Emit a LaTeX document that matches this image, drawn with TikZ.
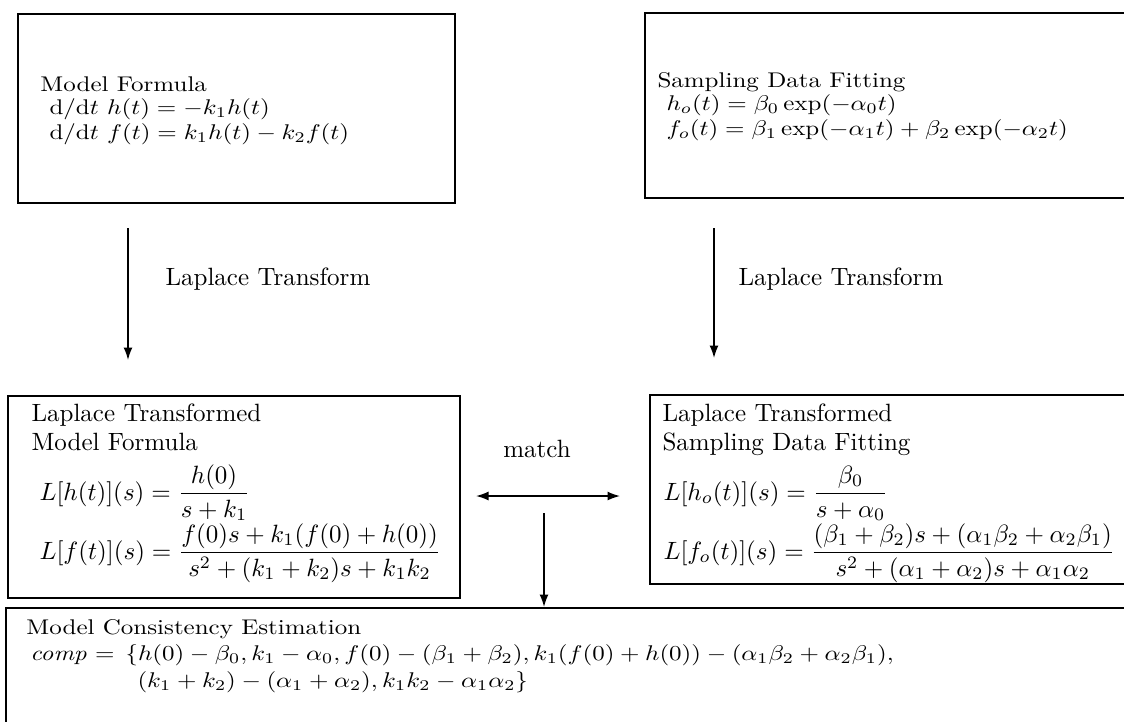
\documentclass[tikz,border=0pt]{standalone}
\usepackage{amsmath}
\usepackage{graphicx}
\usetikzlibrary{arrows.meta,fit}
\newcommand{\vsq}[1]{\scalebox{1}[0.85]{#1}}
\begin{document}
\begin{tikzpicture}[x=0.4pt,y=-0.4pt,
  box/.style={draw, line width=0.8pt, inner sep=0pt},
  txt/.style={anchor=base west, inner sep=0pt, font=\fontsize{10}{12}\selectfont},
  arr/.style={line width=0.6pt, -{Latex[length=5pt,width=3.6pt]}},
  darr/.style={line width=0.6pt, {Latex[length=5pt,width=3.6pt]}-{Latex[length=5pt,width=3.6pt]}}]
\useasboundingbox (0,0) rectangle (1124,721);
\begin{scope}
\clip (0,0) rectangle (1124,721);
% boxes
\node[box, fit={(18,14) (455,203)}] (b1) {};
\node[box, fit={(645,13) (1135,198)}] (b2) {};
\node[box, fit={(8,396) (460,598)}] (b3) {};
\node[box, fit={(650,395) (1135,584)}] (b4) {};
\node[box, fit={(6,608) (1135,735)}] (b5) {};
\end{scope}
% box 1 text
\node[txt] (t1a) at (40,91) {\vsq{Model Formula}};
\node[txt] (t1b) at (49,114) {\vsq{d/d$t$ $h(t) = -k_1h(t)$}};
\node[txt] (t1c) at (49,139) {\vsq{d/d$t$ $f(t) = k_1h(t) - k_2f(t)$}};
% box 2 text
\node[txt] (t2a) at (657,87) {\vsq{Sampling Data Fitting}};
\node[txt] (t2b) at (666,110) {\vsq{$h_o(t) = \beta_0\exp(-\alpha_0t)$}};
\node[txt] (t2c) at (666,135) {\vsq{$f_o(t) = \beta_1\exp(-\alpha_1t) + \beta_2\exp(-\alpha_2t)$}};
% transforms
\coordinate (a1s) at (128,228);
\coordinate (a1e) at (128,360);
\coordinate (a2s) at (714,228);
\coordinate (a2e) at (714,358);
\draw[arr] (a1s) -- (a1e);
\draw[arr] (a2s) -- (a2e);
\node[txt] (lt1) at (165,285) {Laplace Transform};
\node[txt] (lt2) at (738,285) {Laplace Transform};
% box 3 text
\node[txt] (t3a) at (31,421) {Laplace Transformed};
\node[txt] (t3b) at (31,450) {Model Formula};
\node[txt] (t3c) at (39,500) {$L[h(t)](s) = \dfrac{h(0)}{s+k_1}$};
\node[txt] (t3d) at (39,559) {$L[f(t)](s) = \dfrac{f(0)s + k_1(f(0)+h(0))}{s^2+(k_1+k_2)s+k_1k_2}$};
% box 4 text
\node[txt] (t4a) at (662,421) {Laplace Transformed};
\node[txt] (t4b) at (662,450) {Sampling Data Fitting};
\node[txt] (t4c) at (663,500) {$L[h_o(t)](s) = \dfrac{\beta_0}{s+\alpha_0}$};
\node[txt] (t4d) at (663,559) {$L[f_o(t)](s) = \dfrac{(\beta_1+\beta_2)s + (\alpha_1\beta_2+\alpha_2\beta_1)}{s^2+(\alpha_1+\alpha_2)s+\alpha_1\alpha_2}$};
% match
\node[txt, anchor=base] (m) at (537,457) {match};
\coordinate (ml) at (476,496);
\coordinate (mr) at (620,496);
\draw[darr] (ml) -- (mr);
\coordinate (ds) at (544,513);
\coordinate (de) at (544,607);
\draw[arr] (ds) -- (de);
% box 5 text
\node[txt] (t5a) at (26,634) {\vsq{Model Consistency Estimation}};
\node[txt] (t5b) at (30,660) {\vsq{$\mathit{comp} =$}};
\node[txt] (t5c) at (125,660) {\vsq{$\{h(0)-\beta_0, k_1-\alpha_0, f(0)-(\beta_1+\beta_2), k_1(f(0)+h(0))-(\alpha_1\beta_2+\alpha_2\beta_1),$}};
\node[txt] (t5d) at (137,687) {\vsq{$(k_1+k_2)-(\alpha_1+\alpha_2), k_1k_2-\alpha_1\alpha_2\}$}};
\end{tikzpicture}
\end{document}
